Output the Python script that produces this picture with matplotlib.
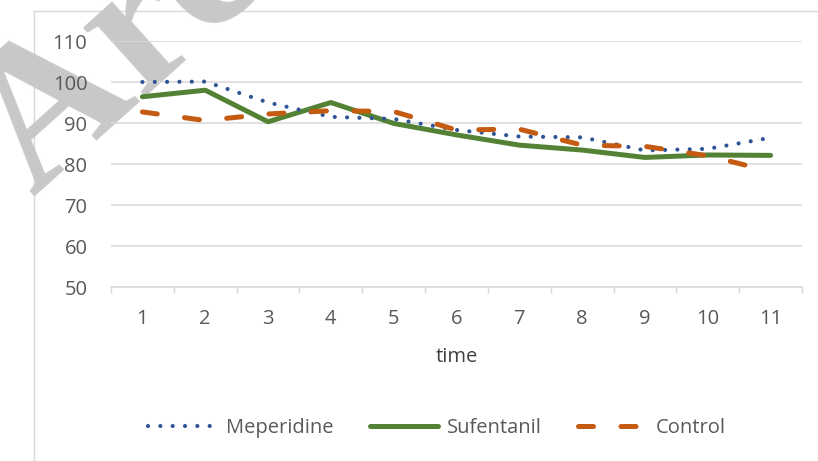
import matplotlib
matplotlib.use("Agg")
import matplotlib.pyplot as plt
from matplotlib.lines import Line2D

plt.rcParams['font.family'] = ['Open Sans', 'DejaVu Sans']

# Series values over the eleven time points
time_points = list(range(1, 12))
tick_labels = [str(t) for t in time_points]
meperidine = [100.0, 100.1, 95.0, 91.5, 91.0, 88.3, 86.7, 86.5, 83.3, 83.7, 86.4]
sufentanil = [96.4, 98.0, 90.3, 95.0, 89.9, 87.1, 84.6, 83.4, 81.6, 82.2, 82.1]
control = [92.7, 90.6, 92.2, 93.0, 92.8, 88.3, 88.5, 84.6, 84.3, 82.0, 78.2]
series_names = ["Meperidine", "Sufentanil", "Control"]
y_ticks = [50, 60, 70, 80, 90, 100, 110]

W, H = 818, 461
fig = plt.figure(figsize=(W / 100, H / 100), dpi=100)
fig.patch.set_facecolor("white")

GRID = "#d9d9d9"
TEXT = "#595959"
FS = 14.5

# chart-area frame (top and left edges visible)
fig.add_artist(Line2D([34 / W, 1.0], [1 - 11 / H, 1 - 11 / H], color=GRID, lw=1.0, zorder=-3))
fig.add_artist(Line2D([34 / W, 34 / W], [0.0, 1 - 11 / H], color=GRID, lw=1.0, zorder=-3))

# faint diagonal watermark at the upper left
fig.text(34 / W, 1 - 198 / H, "Archive of SID", rotation=42, rotation_mode="anchor",
         ha="left", va="baseline", fontsize=145, fontweight="bold",
         family=["Liberation Serif", "DejaVu Serif"], color="#c8c8c8", zorder=-2)

left, right = 111 / W, 802 / W
top, bottom = 1 - 41 / H, 1 - 287 / H
ax = fig.add_axes([left, bottom, right - left, top - bottom])
ax.set_facecolor("none")
ax.set_zorder(0)

ax.set_xlim(0.5, 11.5)
ax.set_ylim(50, 110)
ax.set_yticks(y_ticks)
ax.set_yticklabels([str(v) for v in y_ticks])
ax.yaxis.grid(True, color=GRID, lw=1.1)
ax.set_axisbelow(True)
for s in ["top", "right", "left"]:
    ax.spines[s].set_visible(False)
ax.spines["bottom"].set_color(GRID)
ax.spines["bottom"].set_linewidth(1.1)

ax.set_xticks([i + 0.5 for i in range(0, 12)])
ax.set_xticklabels([])
ax.tick_params(axis="x", which="major", length=4.5, color=GRID, width=1.0)
ax.set_xticks(time_points, minor=True)
ax.set_xticklabels(tick_labels, minor=True)
ax.tick_params(axis="x", which="minor", length=0, pad=16, labelsize=FS, labelcolor=TEXT)
ax.tick_params(axis="y", length=0, pad=17, labelsize=FS, labelcolor=TEXT)

l1, = ax.plot(time_points, meperidine, color="#2f5597", lw=3.0,
              linestyle=(0, (0.01, 2.95)), dash_capstyle="round", zorder=5,
              label=series_names[0])
l2, = ax.plot(time_points, sufentanil, color="#548235", lw=3.6,
              solid_capstyle="round", solid_joinstyle="round", zorder=4,
              label=series_names[1])
l3, = ax.plot(time_points, control, color="#c55a11", lw=3.6,
              linestyle=(0, (3.0, 5.5)), dash_capstyle="round", zorder=6,
              label=series_names[2])

fig.text((left + right) / 2, 1 - 357 / H, "time", ha="center", va="center",
         fontsize=FS, color="#404040")

fig.legend(handles=[l1, l2, l3], loc="center", bbox_to_anchor=(437 / W, 1 - 428 / H),
           ncol=3, frameon=False, fontsize=FS, labelcolor=TEXT,
           handlelength=3.4, handletextpad=0.45, columnspacing=1.8)

fig.savefig("out.png", dpi=100)
